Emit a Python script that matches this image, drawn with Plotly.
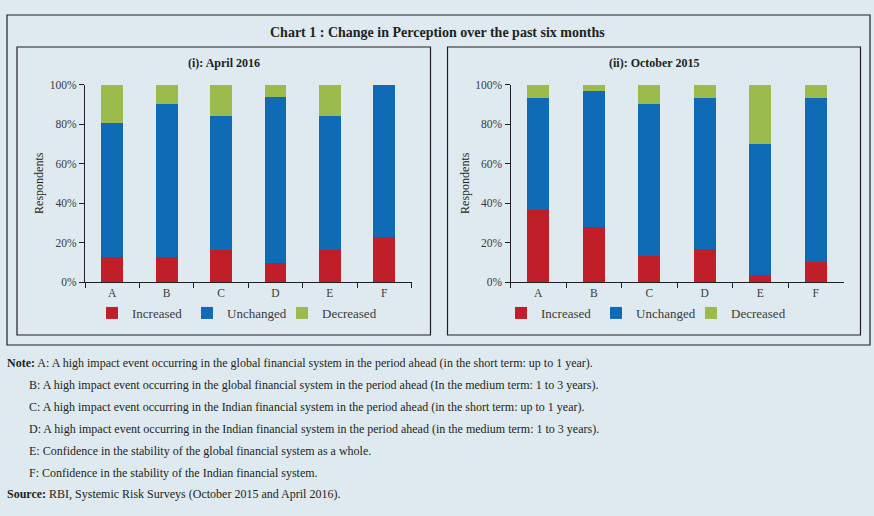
import plotly.graph_objects as go

categories = ['A', 'B', 'C', 'D', 'E', 'F']
series = ['Increased', 'Unchanged', 'Decreased']
colors = ['#c01f2a', '#0f6bb6', '#9bbb4c']

# per cent of respondents
apr2016_increased = [12.9, 12.9, 16.1, 9.7, 16.1, 22.6]
apr2016_unchanged = [67.7, 77.4, 67.8, 83.8, 67.8, 77.4]
apr2016_decreased = [19.4, 9.7, 16.1, 6.5, 16.1, 0.0]

oct2015_increased = [36.7, 27.6, 13.3, 16.7, 3.3, 10.0]
oct2015_unchanged = [56.6, 69.0, 76.7, 76.6, 66.7, 83.3]
oct2015_decreased = [6.7, 3.4, 10.0, 6.7, 30.0, 6.7]

notes = [
    'A: A high impact event occurring in the global financial system in the period ahead (in the short term: up to 1 year).',
    'B: A high impact event occurring in the global financial system in the period ahead (In the medium term: 1 to 3 years).',
    'C: A high impact event occurring in the Indian financial system in the period ahead (in the short term: up to 1 year).',
    'D: A high impact event occurring in the Indian financial system in the period ahead (in the medium term: 1 to 3 years).',
    'E: Confidence in the stability of the global financial system as a whole.',
    'F: Confidence in the stability of the Indian financial system.',
]
source = 'RBI, Systemic Risk Surveys (October 2015 and April 2016).'

W, H = 874, 516
FONT = 'Liberation Serif'
BG = '#deeaef'
INK = '#231f20'


def px(x):
    return x / W


def py(y):
    return 1 - y / H


fig = go.Figure()

panels = [
    ('x', 'y', 'legend', [apr2016_increased, apr2016_unchanged, apr2016_decreased]),
    ('x2', 'y2', 'legend2', [oct2015_increased, oct2015_unchanged, oct2015_decreased]),
]
for xa, ya, leg, vals in panels:
    for name, col, v in zip(series, colors, vals):
        fig.add_trace(go.Bar(
            x=categories, y=v, name=name, xaxis=xa, yaxis=ya, legend=leg,
            marker=dict(color=col, line=dict(width=0)),
            hovertemplate='%{x}: %{y:.1f}%<extra>' + name + '</extra>',
        ))

axis_common = dict(
    showline=True, linecolor=INK, linewidth=1, ticks='outside', tickcolor=INK,
    ticklen=5, showgrid=False, zeroline=False, automargin=False,
    tickfont=dict(family=FONT, size=11.5, color='#3a3a3a'),
)
yaxis_common = dict(
    axis_common, range=[0, 100], dtick=20, ticksuffix='%',
    title=dict(text='Respondents', font=dict(family=FONT, size=12, color=INK), standoff=3),
)
xaxis_common = dict(axis_common, tickson='boundaries')

legend_common = dict(orientation='h', xanchor='left', yanchor='middle', traceorder='normal',
                     bgcolor='rgba(0,0,0,0)', entrywidth=50, entrywidthmode='pixels',
                     font=dict(family=FONT, size=13, color='#3a3a3a'))

fig.update_layout(
    width=W, height=H,
    margin=dict(l=0, r=0, t=0, b=0, autoexpand=False),
    paper_bgcolor=BG, plot_bgcolor=BG,
    barmode='stack', bargap=0.6,
    xaxis=dict(xaxis_common, domain=[px(85), px(411.5)], anchor='y'),
    yaxis=dict(yaxis_common, domain=[py(282), py(84.5)], anchor='x'),
    xaxis2=dict(xaxis_common, domain=[px(510.5), px(843.5)], anchor='y2'),
    yaxis2=dict(yaxis_common, domain=[py(282), py(84.5)], anchor='x2'),
    legend=dict(legend_common, x=px(92), y=py(313)),
    legend2=dict(legend_common, x=px(501), y=py(313)),
)

# frames: outer box and two panel boxes
frames = [(7, 15, 870, 345), (17, 47, 430.5, 335), (447.5, 47, 860.5, 335)]
for x0, y0, x1, y1 in frames:
    fig.add_shape(type='rect', xref='paper', yref='paper',
                  x0=px(x0), x1=px(x1), y0=py(y1), y1=py(y0),
                  line=dict(color=INK, width=1.2), fillcolor='rgba(0,0,0,0)', layer='below')

heads = [
    ('<b>Chart 1 : Change in Perception over the past six months</b>', 437, 32, 14),
    ('<b>(i): April 2016</b>', 224, 63, 12),
    ('<b>(ii): October 2015</b>', 654, 63, 12),
]
for txt, x, y, size in heads:
    fig.add_annotation(text=txt, x=px(x), y=py(y), xref='paper', yref='paper', showarrow=False,
                       xanchor='center', yanchor='middle', font=dict(family=FONT, size=size, color=INK))

note_font = dict(family=FONT, size=12, color=INK)
for i, line in enumerate(notes):
    if i == 0:
        txt, x = '<b>Note:</b> ' + line, 5
    else:
        txt, x = line, 27
    fig.add_annotation(text=txt, x=px(x), y=py(363 + 22 * i), xref='paper', yref='paper',
                       xanchor='left', yanchor='middle', showarrow=False, font=note_font)
fig.add_annotation(text='<b>Source:</b> ' + source, x=px(5), y=py(494), xref='paper', yref='paper',
                   xanchor='left', yanchor='middle', showarrow=False, font=note_font)

fig.write_html('out.html', config={'displayModeBar': False},
               post_script="document.body.style.margin='0px';")
